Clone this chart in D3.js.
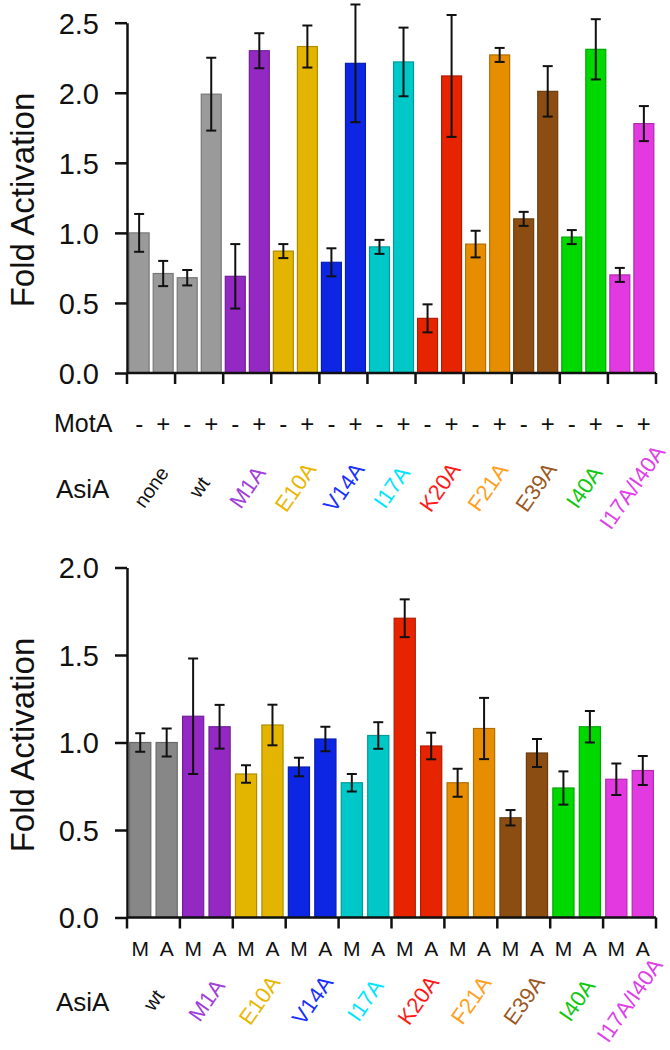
<!DOCTYPE html>
<html>
<head>
<meta charset="utf-8">
<script src="https://cdn.jsdelivr.net/npm/d3@7"></script>
<style>
  html, body { margin: 0; padding: 0; background: #fff; }
  svg { display: block; font-family: "Liberation Sans", Arial, sans-serif; }
</style>
</head>
<body>
<svg id="chart" width="670" height="1050"></svg>
<script>
// ---------- DATA ----------
const topGroups = ["none", "wt", "M1A", "E10A", "V14A", "I17A", "K20A", "F21A", "E39A", "I40A", "I17A/I40A"];
const motaSigns = ["-", "+"];
// values for each group: [MotA -, MotA +]
const topValues = [1.00, 0.71, 0.68, 1.99, 0.69, 2.30, 0.87, 2.33, 0.79, 2.21, 0.90, 2.22,
                   0.39, 2.12, 0.92, 2.27, 1.10, 2.01, 0.97, 2.31, 0.70, 1.78];
const topErrors = [0.135, 0.09, 0.055, 0.26, 0.23, 0.125, 0.05, 0.15, 0.10, 0.42, 0.05, 0.245,
                   0.10, 0.435, 0.095, 0.05, 0.05, 0.18, 0.05, 0.215, 0.05, 0.125];
const topTicks = [0, 0.5, 1.0, 1.5, 2.0, 2.5];

const bottomGroups = ["wt", "M1A", "E10A", "V14A", "I17A", "K20A", "F21A", "E39A", "I40A", "I17A/I40A"];
const maLabels = ["M", "A"];
const bottomValues = [1.00, 1.00, 1.15, 1.09, 0.82, 1.10, 0.86, 1.02, 0.77, 1.04,
                      1.71, 0.98, 0.77, 1.08, 0.57, 0.94, 0.74, 1.09, 0.79, 0.84];
const bottomErrors = [0.053, 0.08, 0.33, 0.125, 0.05, 0.116, 0.053, 0.07, 0.05, 0.076,
                      0.108, 0.076, 0.08, 0.175, 0.044, 0.08, 0.095, 0.09, 0.09, 0.083];
const bottomTicks = [0, 0.5, 1.0, 1.5, 2.0];

const barColors = {
  "none": "#9a9a9a", "wt": "#9a9a9a", "M1A": "#9328c2", "E10A": "#e3b400", "V14A": "#0c26e3",
  "I17A": "#00c8c8", "K20A": "#e62400", "F21A": "#e68e00", "E39A": "#8c4d12", "I40A": "#00d800",
  "I17A/I40A": "#e339e0"
};
const bottomGray = "#878787";
const labelColors = {
  "none": "#111", "wt": "#111", "M1A": "#a040d8", "E10A": "#e8b800", "V14A": "#1a30ff",
  "I17A": "#00e5ff", "K20A": "#ff1a1a", "F21A": "#ffa020", "E39A": "#9b5a25", "I40A": "#10c810",
  "I17A/I40A": "#e040e8"
};

// ---------- DRAW ----------
const svg = d3.select("#chart");
const X0 = 127, X1 = 656;

function drawPanel(cfg) {
  const g = svg.append("g");
  const nBars = cfg.groups.length * 2;
  const barIdx = d3.range(nBars);
  const x = d3.scaleBand().domain(barIdx).range([X0, X1])
    .paddingInner(cfg.padIn).paddingOuter(cfg.padOut);
  const xg = d3.scaleBand().domain(cfg.groups).range([X0, X1]);
  const y = d3.scaleLinear().domain(cfg.domain).range([cfg.y0, cfg.yTop]);

  const colorOf = i => {
    const grp = cfg.groups[Math.floor(i / 2)];
    if (grp === "wt" || grp === "none") return cfg.gray;
    return barColors[grp];
  };

  // bars
  g.selectAll("rect.bar").data(barIdx).join("rect")
    .attr("class", "bar")
    .attr("x", i => x(i))
    .attr("width", x.bandwidth())
    .attr("y", i => y(cfg.values[i]))
    .attr("height", i => y(0) - y(cfg.values[i]))
    .attr("fill", i => colorOf(i))
    .attr("stroke", i => d3.color(colorOf(i)).darker(0.7))
    .attr("stroke-width", 1.2);

  // error bars
  const cap = 5;
  const eb = g.selectAll("g.err").data(barIdx).join("g").attr("class", "err")
    .attr("stroke", "#111").attr("stroke-width", 2);
  eb.append("line")
    .attr("x1", i => x(i) + x.bandwidth() / 2).attr("x2", i => x(i) + x.bandwidth() / 2)
    .attr("y1", i => y(cfg.values[i] + cfg.errors[i])).attr("y2", i => y(cfg.values[i] - cfg.errors[i]));
  eb.append("line")
    .attr("x1", i => x(i) + x.bandwidth() / 2 - cap).attr("x2", i => x(i) + x.bandwidth() / 2 + cap)
    .attr("y1", i => y(cfg.values[i] + cfg.errors[i])).attr("y2", i => y(cfg.values[i] + cfg.errors[i]));
  eb.append("line")
    .attr("x1", i => x(i) + x.bandwidth() / 2 - cap).attr("x2", i => x(i) + x.bandwidth() / 2 + cap)
    .attr("y1", i => y(cfg.values[i] - cfg.errors[i])).attr("y2", i => y(cfg.values[i] - cfg.errors[i]));

  // y axis
  const ya = g.append("g").attr("transform", `translate(${X0},0)`)
    .call(d3.axisLeft(y).tickValues(cfg.ticks).tickFormat(d3.format(".1f"))
      .tickSize(12).tickPadding(16).tickSizeOuter(0));
  ya.select(".domain").attr("stroke", "#111").attr("stroke-width", 2.5);
  ya.selectAll(".tick line").attr("stroke", "#111").attr("stroke-width", 2.5);
  ya.selectAll(".tick text").attr("font-size", 29).attr("fill", "#111")
    .attr("font-family", "'Liberation Sans', Arial, sans-serif").attr("dy", "0.36em");

  // x axis with ticks at group boundaries
  const boundaries = cfg.groups.map(d => xg(d)).concat([X1]);
  g.append("line").attr("x1", X0).attr("x2", X1).attr("y1", y(0)).attr("y2", y(0))
    .attr("stroke", "#111").attr("stroke-width", 2.5);
  g.selectAll("line.xt").data(boundaries).join("line").attr("class", "xt")
    .attr("x1", d => d).attr("x2", d => d)
    .attr("y1", y(0)).attr("y2", y(0) + 11)
    .attr("stroke", "#111").attr("stroke-width", 2.5);

  // y label
  g.append("text")
    .attr("transform", `translate(${cfg.ylabX},${cfg.ylabY}) rotate(-90)`)
    .attr("text-anchor", "middle").attr("font-size", 33).attr("fill", "#111")
    .text("Fold Activation");

  // sub-labels row (MotA +/- or M/A)
  if (cfg.rowTitle) {
    g.append("text").attr("x", 54).attr("y", cfg.rowY).attr("dy", "0.36em")
      .attr("font-size", 25).attr("fill", "#111").text(cfg.rowTitle);
  }
  g.selectAll("text.sub").data(barIdx).join("text").attr("class", "sub")
    .attr("x", i => x(i) + x.bandwidth() / 2).attr("y", cfg.rowY).attr("dy", "0.36em")
    .attr("text-anchor", "middle").attr("font-size", cfg.subSize).attr("fill", "#111")
    .text(i => cfg.subLabels[i % 2]);

  // AsiA row
  g.append("text").attr("x", 56).attr("y", cfg.asiaY).attr("dy", "0.36em")
    .attr("font-size", 26).attr("fill", "#111").text("AsiA");
  g.selectAll("text.grp").data(cfg.groups).join("text").attr("class", "grp")
    .attr("transform", d => `translate(${xg(d) + xg.bandwidth() / 2},${cfg.asiaY - 2}) rotate(-55)`)
    .attr("text-anchor", "middle").attr("dy", "0.36em")
    .attr("font-size", d => (d === "none" || d === "wt") ? 20 : 22)
    .attr("fill", d => labelColors[d])
    .text(d => d);
}

drawPanel({
  groups: topGroups, values: topValues, errors: topErrors, ticks: topTicks,
  domain: [0, 2.5], y0: 373, yTop: 22.7, gray: "#9a9a9a",
  padIn: 0.17, padOut: 0.09,
  ylabX: 34, ylabY: 200,
  rowTitle: "MotA", rowY: 423, subLabels: motaSigns, subSize: 24,
  asiaY: 489
});

drawPanel({
  groups: bottomGroups, values: bottomValues, errors: bottomErrors, ticks: bottomTicks,
  domain: [0, 2], y0: 917.5, yTop: 567.5, gray: bottomGray,
  padIn: 0.2, padOut: 0.1,
  ylabX: 34, ylabY: 745,
  rowTitle: null, rowY: 948, subLabels: maLabels, subSize: 21,
  asiaY: 1002
});
</script>
</body>
</html>
